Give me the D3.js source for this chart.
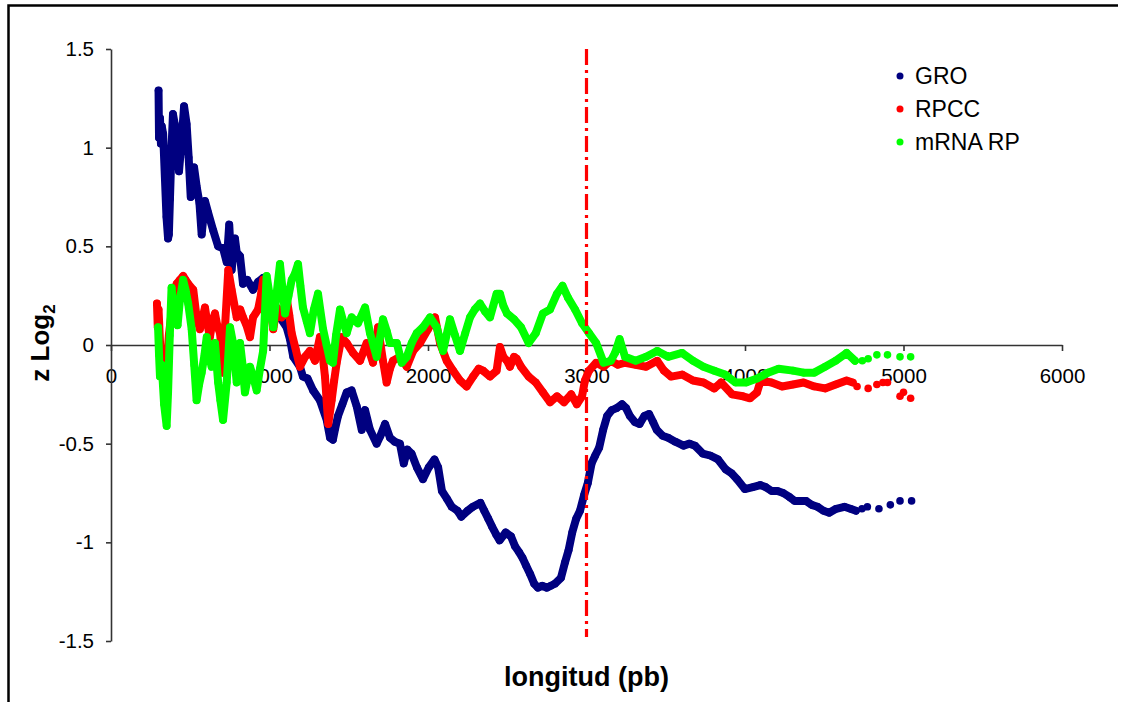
<!DOCTYPE html>
<html>
<head>
<meta charset="utf-8">
<script src="https://cdn.jsdelivr.net/npm/d3@7"></script>
<style>
  body { margin: 0; background: #fff; }
  svg { display: block; font-family: "Liberation Sans", Arial, sans-serif; }
</style>
</head>
<body>
<div id="chart-area"></div>
<script>
// values (x = longitud in pb, y = z Log2)
var groX = [300,303,309,315,320,329,340,350,360,365,372,382,391,402,414,429,446,461,477,490,503,524,541,558,572,593,613,645,676,707,730,746,761,782,793,814,833,860,896,928,960,1003,1035,1066,1108,1129,1150,1192,1211,1240,1275,1318,1361,1382,1400,1415,1432,1460,1487,1518,1550,1582,1603,1634,1676,1700,1729,1760,1790,1823,1847,1870,1896,1930,1968,2005,2041,2064,2088,2120,2150,2186,2210,2250,2283,2331,2355,2380,2404,2430,2452,2490,2524,2549,2575,2597,2620,2644,2670,2694,2720,2750,2775,2800,2839,2865,2887,2910,2935,2959,2985,3008,3032,3055,3080,3105,3130,3160,3190,3224,3250,3274,3305,3335,3365,3395,3420,3443,3480,3515,3560,3612,3650,3684,3733,3780,3830,3878,3915,3950,3999,4050,4096,4130,4168,4205,4241,4280,4313,4350,4385,4420,4458,4495,4531,4575,4627,4665,4700,4738,4772,4845,4917,4978,5051];
var groY = [1.29,1.05,1.15,1.02,1.11,1.07,0.85,0.65,0.54,0.56,0.74,1.0,1.17,1.12,1.07,0.88,1.04,1.21,1.12,0.95,0.75,0.9,0.80,0.72,0.56,0.73,0.67,0.58,0.50,0.49,0.42,0.61,0.38,0.54,0.47,0.45,0.31,0.33,0.28,0.32,0.34,0.23,0.2,0.14,0.09,0.03,-0.06,-0.11,-0.16,-0.17,-0.23,-0.28,-0.38,-0.47,-0.48,-0.42,-0.36,-0.30,-0.24,-0.23,-0.31,-0.43,-0.33,-0.43,-0.50,-0.46,-0.40,-0.47,-0.49,-0.50,-0.60,-0.53,-0.55,-0.62,-0.68,-0.62,-0.58,-0.62,-0.74,-0.78,-0.82,-0.84,-0.87,-0.84,-0.82,-0.80,-0.84,-0.88,-0.92,-0.96,-0.99,-0.95,-0.97,-1.02,-1.05,-1.08,-1.12,-1.16,-1.21,-1.23,-1.22,-1.23,-1.22,-1.21,-1.18,-1.10,-1.04,-0.95,-0.88,-0.84,-0.76,-0.70,-0.60,-0.56,-0.52,-0.43,-0.36,-0.33,-0.32,-0.30,-0.32,-0.36,-0.39,-0.40,-0.36,-0.35,-0.39,-0.43,-0.46,-0.47,-0.49,-0.51,-0.50,-0.51,-0.55,-0.56,-0.58,-0.63,-0.65,-0.68,-0.73,-0.72,-0.71,-0.72,-0.74,-0.74,-0.75,-0.77,-0.79,-0.79,-0.79,-0.81,-0.82,-0.84,-0.85,-0.83,-0.82,-0.83,-0.84,-0.83,-0.82,-0.83,-0.81,-0.79,-0.79];

var rpccX = [290,295,300,310,320,335,351,365,380,395,414,435,455,470,487,519,540,561,593,610,624,640,656,670,688,700,707,720,740,761,793,815,833,855,877,896,928,945,960,991,1010,1024,1045,1077,1108,1125,1140,1165,1192,1224,1255,1287,1318,1335,1350,1362,1371,1392,1408,1424,1455,1487,1527,1571,1613,1653,1685,1716,1739,1760,1779,1823,1866,1906,1950,2000,2044,2076,2118,2158,2202,2244,2284,2320,2347,2391,2433,2454,2475,2498,2517,2543,2560,2587,2635,2680,2725,2770,2814,2858,2903,2939,2972,2990,3016,3061,3108,3153,3198,3243,3310,3376,3446,3489,3534,3603,3672,3738,3806,3849,3918,3987,4032,4076,4099,4167,4234,4303,4369,4437,4505,4572,4641,4680,4707,4777,4832,4870,4899,4978,5000,5045];
var rpccY = [0.21,0.09,0.18,0.0,-0.10,-0.14,-0.12,0.05,0.15,0.25,0.31,0.33,0.35,0.33,0.31,0.28,0.14,0.08,0.19,0.10,0.04,0.12,0.16,0.10,0.06,-0.05,-0.14,0.10,0.38,0.28,0.14,0.18,0.14,0.10,0.04,0.14,0.18,0.25,0.33,0.24,0.16,0.08,0.19,0.14,0.24,0.15,0.06,-0.02,-0.11,-0.06,-0.03,-0.08,0.04,-0.05,-0.16,-0.30,-0.40,-0.28,-0.18,-0.09,0.04,0.01,-0.04,-0.08,0.01,-0.09,0.09,-0.08,-0.19,-0.12,-0.08,-0.06,-0.11,-0.03,0.01,0.08,0.14,0.01,-0.08,-0.13,-0.18,-0.21,-0.16,-0.12,-0.13,-0.16,-0.13,-0.01,-0.06,-0.08,-0.11,-0.06,-0.07,-0.11,-0.16,-0.19,-0.24,-0.29,-0.26,-0.29,-0.25,-0.30,-0.26,-0.18,-0.13,-0.09,-0.11,-0.08,-0.10,-0.09,-0.10,-0.11,-0.08,-0.13,-0.16,-0.15,-0.18,-0.19,-0.22,-0.19,-0.25,-0.26,-0.27,-0.24,-0.18,-0.19,-0.21,-0.20,-0.19,-0.21,-0.22,-0.20,-0.18,-0.19,-0.21,-0.22,-0.20,-0.19,-0.19,-0.26,-0.24,-0.27];

var mrnaX = [297,303,309,320,335,351,360,371,382,404,420,435,455,470,487,509,525,540,556,572,590,604,620,635,656,676,690,707,730,751,770,793,814,830,845,877,900,919,940,960,982,1003,1024,1045,1066,1080,1098,1120,1140,1160,1180,1195,1211,1235,1255,1280,1306,1320,1338,1360,1382,1400,1420,1445,1465,1487,1518,1558,1603,1634,1676,1716,1740,1760,1803,1834,1866,1897,1929,1968,2013,2055,2095,2139,2170,2202,2235,2265,2295,2328,2360,2391,2433,2454,2475,2498,2543,2587,2635,2680,2725,2770,2814,2849,2883,2928,2972,3016,3061,3108,3153,3180,3209,3243,3310,3376,3446,3515,3603,3672,3738,3806,3874,3941,4007,4076,4145,4212,4303,4369,4437,4505,4572,4641,4694,4740,4777,4832,4899,4978,5045];
var mrnaY = [0.09,-0.05,-0.16,-0.10,-0.30,-0.41,-0.24,0.05,0.29,0.14,0.10,0.23,0.33,0.28,0.21,0.08,-0.10,-0.28,-0.20,-0.14,-0.05,0.04,-0.06,-0.11,0.01,-0.19,-0.28,-0.38,-0.19,0.09,0.01,-0.19,0.01,-0.10,-0.24,-0.11,-0.17,-0.23,-0.12,-0.03,0.35,0.24,0.09,0.26,0.41,0.30,0.16,0.25,0.33,0.36,0.41,0.30,0.19,0.12,0.06,0.18,0.26,0.18,0.08,0.0,-0.08,-0.09,0.05,0.18,0.12,0.06,0.14,0.11,0.19,0.06,-0.06,0.13,0.07,0.01,0.01,-0.09,-0.06,0.01,0.06,0.09,0.14,0.09,-0.03,0.13,0.05,-0.03,0.06,0.14,0.18,0.21,0.17,0.14,0.26,0.26,0.20,0.16,0.13,0.09,0.01,0.06,0.16,0.18,0.26,0.30,0.24,0.18,0.11,0.06,0.01,-0.09,-0.08,-0.04,0.03,-0.06,-0.08,-0.06,-0.03,-0.06,-0.04,-0.08,-0.11,-0.13,-0.15,-0.19,-0.19,-0.17,-0.14,-0.12,-0.13,-0.14,-0.14,-0.11,-0.08,-0.04,-0.08,-0.08,-0.07,-0.05,-0.05,-0.06,-0.06];

var seriesNames = ["GRO", "RPCC", "mRNA RP"];
var seriesColors = ["#000080", "#ff0000", "#00ff00"];
var xTicks = [0, 1000, 2000, 3000, 4000, 5000, 6000];
var yTicks = [-1.5, -1, -0.5, 0, 0.5, 1, 1.5];
var yTickLabels = ["-1.5", "-1", "-0.5", "0", "0.5", "1", "1.5"];
var markerLine = 3000;

var width = 1123, height = 702;
var plot = {left: 111, right: 1062, top: 49, bottom: 641};
var denseUntil = 4700;   // points after this are drawn as loose dots only

var svg = d3.select("#chart-area").append("svg")
    .attr("width", width)
    .attr("height", height);

// outer frame (right and bottom sides fall outside the picture)
svg.append("path")
    .attr("d", "M8.5," + height + "V5.5H1118")
    .attr("fill", "none")
    .attr("stroke", "#000")
    .attr("stroke-width", 2.5);

var x = d3.scaleLinear().domain([0, 6000]).range([plot.left, plot.right]);
var y = d3.scaleLinear().domain([-1.5, 1.5]).range([plot.bottom, plot.top]);

var g = svg.append("g");

// axes
var xAxis = d3.axisBottom(x)
    .tickValues(xTicks)
    .tickFormat(d3.format("d"))
    .tickSize(6)
    .tickSizeOuter(0)
    .tickPadding(17);
var xg = g.append("g")
    .attr("transform", "translate(0," + y(0) + ")")
    .call(xAxis);

var yAxis = d3.axisLeft(y)
    .tickValues(yTicks)
    .tickFormat((d, i) => yTickLabels[i])
    .tickSize(5)
    .tickSizeOuter(0)
    .tickPadding(12);
var yg = g.append("g")
    .attr("transform", "translate(" + x(0) + ",0)")
    .call(yAxis);

[xg, yg].forEach((a) => {
    a.selectAll("path, line").attr("stroke", "#333").attr("stroke-width", 1.6);
    a.selectAll("text")
        .attr("fill", "#000")
        .attr("font-size", "20.5px")
        .attr("font-family", "'Liberation Sans', Arial, sans-serif");
});

// series
var series = [
    {xs: groX, ys: groY},
    {xs: rpccX, ys: rpccY},
    {xs: mrnaX, ys: mrnaY}
];

var line = d3.line()
    .x((d) => x(d[0]))
    .y((d) => y(d[1]));

series.forEach((s, i) => {
    var pts = s.xs.map((v, k) => [v, s.ys[k]]);
    var dense = pts.filter((p) => p[0] <= denseUntil);
    g.append("path")
        .datum(dense)
        .attr("d", line)
        .attr("fill", "none")
        .attr("stroke", seriesColors[i])
        .attr("stroke-width", 8)
        .attr("stroke-linejoin", "round")
        .attr("stroke-linecap", "round");
    g.append("g").selectAll("circle")
        .data(pts)
        .enter()
        .append("circle")
        .attr("cx", (d) => x(d[0]))
        .attr("cy", (d) => y(d[1]))
        .attr("r", 3.8)
        .attr("fill", seriesColors[i]);
});

// dash-dot line at 3000 pb
g.append("line")
    .attr("x1", x(markerLine))
    .attr("x2", x(markerLine))
    .attr("y1", y(1.5))
    .attr("y2", y(-1.48))
    .attr("stroke", "#ff0000")
    .attr("stroke-width", 3.2)
    .attr("stroke-dasharray", "16,5,3,5");

// legend
var legend = svg.append("g").attr("transform", "translate(900,76)");
seriesNames.forEach((name, i) => {
    var row = legend.append("g").attr("transform", "translate(0," + (i * 33) + ")");
    row.append("circle").attr("r", 3.5).attr("fill", seriesColors[i]);
    row.append("text")
        .attr("x", 15)
        .attr("dy", "0.36em")
        .attr("font-size", "23px")
        .text(name);
});

// axis titles
svg.append("text")
    .attr("x", x(3000))
    .attr("y", 686)
    .attr("text-anchor", "middle")
    .attr("font-size", "27px")
    .attr("font-weight", "bold")
    .text("longitud (pb)");

var yt = svg.append("text")
    .attr("transform", "translate(49,343) rotate(-90)")
    .attr("text-anchor", "middle")
    .attr("font-size", "26px")
    .attr("font-weight", "bold");
yt.append("tspan").text("z Log");
yt.append("tspan").attr("font-size", "17px").attr("dy", "6").text("2");
</script>
</body>
</html>
